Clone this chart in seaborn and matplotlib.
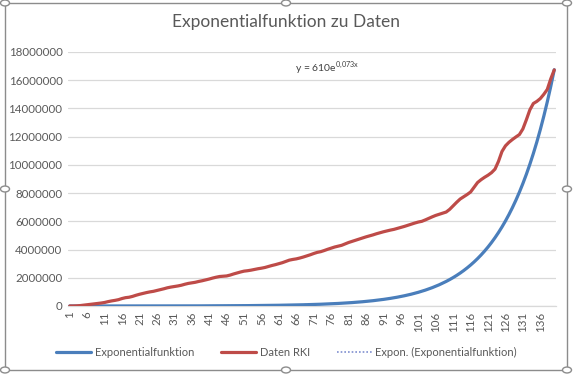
import numpy as np
import pandas as pd
import matplotlib
matplotlib.use("Agg")
import matplotlib.pyplot as plt
import seaborn as sns
from matplotlib.patches import Rectangle, Circle

# ---------------- data ----------------
title = "Exponentialfunktion zu Daten"
equation = r"y = 610e$^{\mathregular{0{,}073x}}$"
series_names = ["Exponentialfunktion", "Daten RKI", "Expon. (Exponentialfunktion)"]

days = list(range(1, 141))

exp_values = [
    656, 706, 759, 817, 879, 945, 1017, 1094, 1177, 1266,
    1362, 1465, 1576, 1695, 1823, 1961, 2110, 2270, 2442, 2627,
    2826, 3040, 3270, 3517, 3784, 4070, 4379, 4710, 5067, 5451,
    5863, 6307, 6785, 7299, 7852, 8446, 9086, 9774, 10514, 11310,
    12167, 13088, 14079, 15146, 16293, 17526, 18854, 20281, 21817, 23470,
    25247, 27159, 29217, 31428, 33808, 36369, 39123, 42086, 45273, 48701,
    52389, 56357, 60625, 65216, 70155, 75468, 81183, 87331, 93944, 101059,
    108713, 116945, 125801, 135328, 145577, 156601, 168461, 181218, 194942, 209706,
    225587, 242671, 261049, 280818, 302084, 324962, 349571, 376044, 404522, 435156,
    468111, 503561, 541697, 582718, 626848, 674320, 725386, 780320, 839414, 902983,
    971367, 1044929, 1124064, 1209188, 1300760, 1399267, 1505235, 1619225, 1741852, 1873798,
    2015702, 2168353, 2332568, 2509208, 2699232, 2903647, 3123543, 3360087, 3614550, 3888201,
    4182658, 4499415, 4840165, 5206701, 5601008, 6025176, 6481467, 6972307, 7500327, 8068348,
    8679372, 9336668, 10043754, 10804349, 11622567, 12502753, 13449596, 14468130, 15563817, 16742548,
]

rki_values = [
    0, 0, 10000, 30000, 60000, 90000, 120000, 150000, 180000, 210000,
    250000, 310000, 360000, 400000, 450000, 530000, 590000, 620000, 680000, 760000,
    830000, 890000, 950000, 1000000, 1040000, 1100000, 1160000, 1220000, 1290000, 1340000,
    1380000, 1420000, 1470000, 1540000, 1600000, 1640000, 1680000, 1740000, 1790000, 1850000,
    1910000, 1980000, 2040000, 2090000, 2110000, 2130000, 2190000, 2270000, 2340000, 2410000,
    2470000, 2500000, 2540000, 2590000, 2640000, 2680000, 2730000, 2800000, 2870000, 2930000,
    3000000, 3070000, 3160000, 3250000, 3300000, 3340000, 3400000, 3470000, 3550000, 3630000,
    3720000, 3800000, 3850000, 3930000, 4020000, 4100000, 4180000, 4240000, 4300000, 4400000,
    4500000, 4580000, 4660000, 4740000, 4820000, 4900000, 4970000, 5040000, 5120000, 5190000,
    5260000, 5320000, 5380000, 5430000, 5500000, 5570000, 5640000, 5720000, 5800000, 5880000,
    5950000, 6000000, 6100000, 6210000, 6320000, 6420000, 6500000, 6580000, 6660000, 6850000,
    7100000, 7350000, 7580000, 7740000, 7900000, 8080000, 8420000, 8750000, 8950000, 9120000,
    9270000, 9450000, 9700000, 10250000, 10950000, 11350000, 11600000, 11800000, 11980000, 12150000,
    12550000, 13200000, 13900000, 14350000, 14500000, 14700000, 15000000, 15350000, 16100000, 16730000,
]

y_ticks = list(range(0, 18000001, 2000000))
x_tick_labels = [str(d) for d in days[::5]]

# ---------------- style ----------------
sns.set_style("white")
plt.rcParams["font.family"] = ["Lato", "DejaVu Sans"]

blue = "#4A7EBB"
red = "#BE4B48"
grid_col = "#D9D9D9"
text_col = "#595959"

df = pd.DataFrame({"pos": np.arange(len(days)), "exp": exp_values, "rki": rki_values})

fig = plt.figure(figsize=(5.73, 3.78), dpi=100)
ax = fig.add_axes([68 / 573, 1 - 306 / 378, (556 - 68) / 573, (306 - 52) / 378])

sns.lineplot(data=df, x="pos", y="exp", ax=ax, color=blue, linewidth=2.3,
             label=series_names[0], zorder=3)
sns.lineplot(data=df, x="pos", y="rki", ax=ax, color=red, linewidth=2.3,
             label=series_names[1], zorder=3)
sns.lineplot(data=df, x="pos", y="exp", ax=ax, color="#7F8FD0", linewidth=1.2,
             linestyle=(0, (1, 1.2)), label=series_names[2], zorder=2)

ax.set_xlim(-0.5, len(days) - 0.5)
ax.set_ylim(0, 18000000)
ax.set_yticks(y_ticks)
ax.set_yticklabels([str(v) for v in y_ticks], color=text_col, fontsize=8.3)
ax.set_xticks(np.arange(0, len(days), 5))
ax.set_xticklabels(x_tick_labels, rotation=90, color=text_col, fontsize=8.3)
ax.tick_params(axis="both", length=0, pad=4)
ax.set_xlabel("")
ax.set_ylabel("")
ax.grid(axis="y", color=grid_col, linewidth=0.9)
ax.set_axisbelow(True)
for s in ["top", "right", "left"]:
    ax.spines[s].set_visible(False)
ax.spines["bottom"].set_color(grid_col)
ax.spines["bottom"].set_linewidth(0.9)

ax.text(0.465, 0.935, equation, transform=ax.transAxes, fontsize=7.5,
        color="#404040", ha="left", va="center")

fig.text(0.5, 1 - 22 / 378, title, ha="center", va="center", fontsize=12.5,
         color=text_col)

ax.legend_.remove()
handles, labels = ax.get_legend_handles_labels()
fig.legend(handles, labels, loc="center", bbox_to_anchor=(0.5, 1 - 352 / 378),
           ncol=3, frameon=False, fontsize=8, handlelength=3.2,
           columnspacing=2.4, handletextpad=0.3, labelcolor=text_col)

# chart frame with handles (selected chart look)
fx0, fy0, fx1, fy1 = 5 / 573, 1 - 370 / 378, 567 / 573, 1 - 3 / 378
fig.patches.append(Rectangle((fx0, fy0), fx1 - fx0, fy1 - fy0, transform=fig.transFigure,
                             fill=False, edgecolor="#8C8C8C", linewidth=1.0))
for hx, hy in [(5, 3), (286, 3), (567, 3), (5, 189), (567, 189), (5, 370), (286, 370), (567, 370)]:
    fig.patches.append(Circle((hx / 573, 1 - hy / 378), 4.5 / 573, transform=fig.transFigure,
                              facecolor="white", edgecolor="#8C8C8C", linewidth=1.0))

fig.savefig("out.png", dpi=100)
